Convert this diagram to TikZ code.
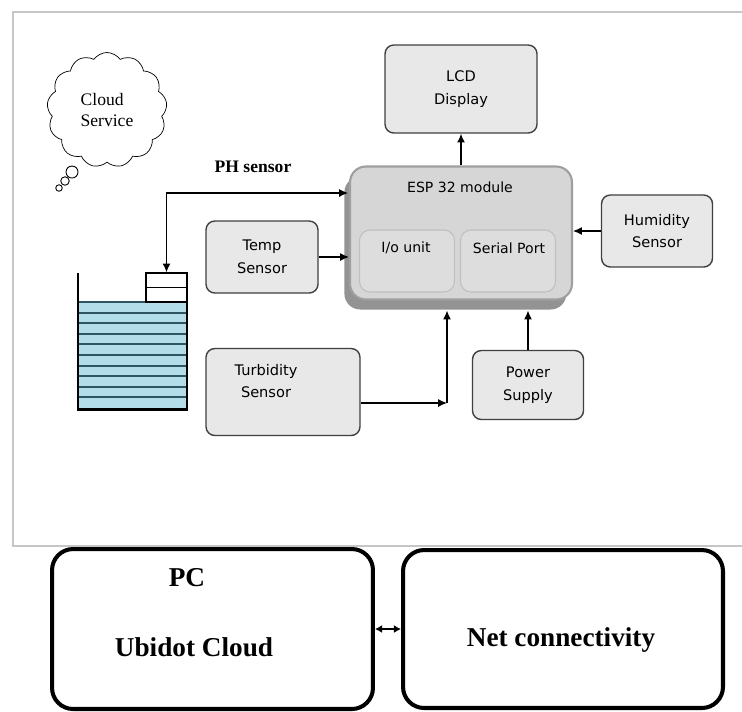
\documentclass[tikz,border=0pt]{standalone}
\usepackage{fontspec}
\setmainfont{Liberation Serif}
\newfontfamily\blockfont{DejaVu Sans}
\usepackage{xcolor}
\usepackage{tikz}
\usetikzlibrary{arrows.meta, positioning, calc, shapes.symbols, shadows}

\definecolor{waterblue}{HTML}{B3DDE8}
\definecolor{waterline}{HTML}{2F5660}

\begin{document}
\begin{tikzpicture}[x=0.02cm, y=-0.02cm,
      >={Latex[length=5pt, width=4.5pt]},
      block/.style={rectangle, rounded corners=5pt, draw=black!75, line width=0.8pt, fill=gray!18,
        font=\blockfont\fontsize{8.3}{13}\selectfont, align=center},
      blocktext/.style={font=\blockfont\fontsize{8.3}{13}\selectfont, align=center},
      espbox/.style={rectangle, rounded corners=9pt, draw=gray!75, line width=1.2pt, fill=gray!32,
        drop shadow={shadow xshift=-3.2pt, shadow yshift=-5.7pt, fill=gray!85, opacity=1}},
      unitbox/.style={rectangle, rounded corners=6pt, draw=gray!50, line width=0.6pt, fill=gray!27,
        minimum width=1.9cm, minimum height=1.24cm},
      unittext/.style={font=\blockfont\fontsize{8}{10}\selectfont},
      bubble/.style={circle, draw, line width=0.5pt, inner sep=0pt},
      netbox/.style={rectangle, rounded corners=12pt, draw, line width=2.3pt},
      bigtext/.style={font=\bfseries\fontsize{15.5}{18}\selectfont},
      arrow/.style={->, line width=0.7pt}
    ]
    \useasboundingbox[fill=white] (0,0) rectangle (742,711);

    % Outer frame
    \draw[gray!45, line width=0.8pt] (13,12) rectangle (800,546);

    % Cloud service bubble
    \node[cloud, draw, cloud puffs=13, cloud puff arc=110, aspect=1, minimum width=2.4cm, minimum height=2.3cm,
      align=left, font=\fontsize{10}{12}\selectfont] (cloud) at (107,110) {Cloud\\Service};
    \node[bubble, minimum size=0.24cm] (bub1) at (72,172) {};
    \node[bubble, minimum size=0.17cm] (bub2) at (65,181) {};
    \node[bubble, minimum size=0.13cm] (bub3) at (59,188) {};

    % Display and controller
    \node[block, minimum width=3.04cm, minimum height=1.76cm] (lcd) at (461,89) {LCD\\Display};
    \node[espbox, minimum width=4.44cm, minimum height=2.66cm] (esp) at (461,233) {};
    \node[unittext] (esptitle) at (460,187) {ESP 32 module};
    \node[unitbox] (io) at (407,261) {};
    \node[unitbox] (serial) at (508,261) {};
    \node[unittext] (iotext) at (406,248) {I/o unit};
    \node[unittext] (serialtext) at (509,248) {Serial Port};

    % Sensors
    \node[block, minimum width=2.24cm, minimum height=1.44cm] (temp) at (262,257) {Temp\\Sensor};
    \node[block, minimum width=3.08cm, minimum height=1.74cm] (turb) at (283,392) {};
    \node[blocktext] (turbtext) at (266,381) {Turbidity\\Sensor};
    \node[block, minimum width=2.22cm, minimum height=1.44cm] (hum) at (657,231) {Humidity\\Sensor};
    \node[block, minimum width=2.22cm, minimum height=1.38cm] (power) at (528,385) {Power\\Supply};
    \node[font=\bfseries\fontsize{10}{12}\selectfont] (phlabel) at (253,167) {PH sensor};

    % Water tank
    \fill[waterblue] (78,302) rectangle (187,408);
    \foreach \y in {302,312.6,...,408}
      \draw[waterline, line width=1.1pt] (78,\y) -- (187,\y);
    \draw[line width=1.7pt] (78,273) -- (78,409) -- (187,409) -- (187,273);
    \node[draw, line width=0.8pt, fill=white, minimum width=0.82cm, minimum height=0.58cm, inner sep=0pt]
      (probe) at (166.5,287.5) {};
    \draw[line width=0.8pt] (probe.west) -- (probe.east);

    % Arrows into the module
    \coordinate (phin) at (348,193);
    \coordinate (bend) at (447,403);
    \draw[arrow, <->] (probe.north) |- (phin);
    \draw[arrow] (temp.east) -- (temp.east -| esp.west);
    \draw[arrow] (hum.west) -- (hum.west -| esp.east);
    \draw[arrow] (esp.north) -- (lcd.south);
    \draw[arrow] (turb.east |- bend) -- (bend);
    \draw[arrow, shorten >=5.7pt] (bend) -- (bend |- esp.south);
    \draw[arrow, shorten >=5.7pt] (power.north) -- (power.north |- esp.south);

    % PC side
    \node[netbox, minimum width=6.42cm, minimum height=3.2cm] (pc) at (212.5,629) {};
    \node[bigtext] (pctitle) at (187,578) {PC};
    \node[bigtext] (ubidot) at (194,647) {Ubidot Cloud};
    \node[netbox, minimum width=6.4cm, minimum height=3.16cm] (net) at (563,629) {};
    \node[bigtext] (nettext) at (561,640) {Net connectivity};
    \draw[line width=1.4pt, <->, >={Latex[length=4pt, width=4.5pt]}] (pc.east) -- (net.west);
  \end{tikzpicture}
\end{document}
